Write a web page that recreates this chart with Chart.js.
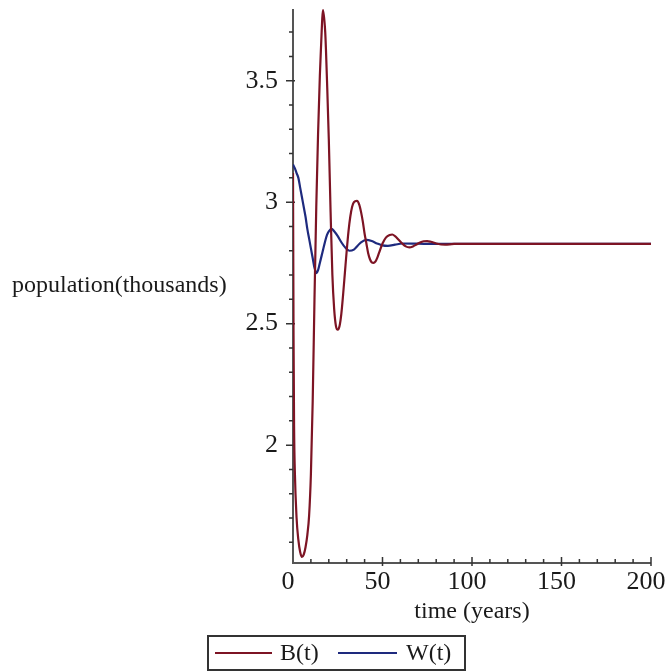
<!DOCTYPE html>
<html><head><meta charset="utf-8">
<script src="https://cdn.jsdelivr.net/npm/chart.js@4/dist/chart.umd.min.js"></script>
<style>html,body{margin:0;padding:0;background:#fff}#wrap{width:671px;height:671px}</style>
</head><body><div id="wrap"><canvas id="c" width="671" height="671"></canvas></div>
<script>
// ---- data ----
const timesB  = [0, 0.3, 0.6, 1, 2, 3, 4, 5, 6, 7, 8, 9, 10, 11, 12, 13, 14, 15, 15.6, 16.8, 18, 18.4, 19, 20, 21, 22, 23, 24, 25, 26, 27, 28, 29, 30, 31, 32, 33, 34, 35.7, 37, 38, 39, 40, 41, 42, 43, 44, 45, 46, 47, 48, 50, 52, 54, 55.5, 57, 59, 61, 63, 65, 67, 69, 71, 73, 75, 77, 80, 85, 90, 100, 150, 200];
const valuesB = [3.12, 2.45, 2.08, 1.90, 1.70, 1.61, 1.56, 1.54, 1.55, 1.58, 1.63, 1.71, 1.88, 2.18, 2.60, 2.98, 3.28, 3.52, 3.63, 3.79, 3.70, 3.63, 3.50, 3.26, 2.96, 2.70, 2.56, 2.49, 2.475, 2.49, 2.54, 2.62, 2.71, 2.80, 2.88, 2.94, 2.98, 3.00, 3.005, 2.99, 2.96, 2.92, 2.87, 2.83, 2.79, 2.765, 2.752, 2.75, 2.755, 2.77, 2.79, 2.83, 2.855, 2.865, 2.867, 2.86, 2.845, 2.83, 2.818, 2.814, 2.818, 2.826, 2.834, 2.839, 2.840, 2.837, 2.830, 2.825, 2.828, 2.828, 2.828, 2.828];
const timesW  = [0, 1, 2, 3, 4, 5, 6, 7, 8, 9, 10, 11, 12, 13.2, 14, 15, 16, 17, 18, 19, 20, 21.6, 23, 25, 27, 29, 31.5, 34, 36, 38, 41, 44, 47, 50, 53, 57, 61, 70, 80, 100, 150, 200];
const valuesW = [3.155, 3.14, 3.12, 3.10, 3.06, 3.02, 2.98, 2.94, 2.89, 2.85, 2.81, 2.77, 2.73, 2.708, 2.72, 2.75, 2.78, 2.81, 2.84, 2.865, 2.88, 2.89, 2.88, 2.86, 2.835, 2.815, 2.80, 2.805, 2.82, 2.835, 2.845, 2.84, 2.83, 2.822, 2.82, 2.825, 2.83, 2.829, 2.828, 2.828, 2.828, 2.828];
const xTickValues = [0, 50, 100, 150, 200];
const yTickValues = [2, 2.5, 3, 3.5];
const seriesLabels = ['B(t)', 'W(t)'];
const xTitle = 'time (years)';
const yTitle = 'population(thousands)';

const colorB = '#7d1424';
const colorW = '#1e2a7e';
const FONT = '"Liberation Serif", "Times New Roman", serif';
const textColor = '#1a1a1a';

const axesPlugin = {
  id: 'mapleAxes',
  beforeDatasetsDraw(chart) {
    const ctx = chart.ctx, xs = chart.scales.x, ys = chart.scales.y;
    const a = chart.chartArea;
    ctx.save();
    ctx.strokeStyle = '#555';
    ctx.lineWidth = 2;
    ctx.beginPath();
    ctx.moveTo(a.left, a.top); ctx.lineTo(a.left, a.bottom + 1);
    ctx.moveTo(a.left - 1, a.bottom); ctx.lineTo(a.right, a.bottom);
    ctx.stroke();
    ctx.strokeStyle = '#333';
    ctx.lineWidth = 1.5;
    ctx.beginPath();
    for (let k = 16; k <= 37; k++) {
      const v = k / 10;
      const y = ys.getPixelForValue(v);
      const major = (k % 5 === 0);
      ctx.moveTo(a.left - (major ? 7 : 4), y);
      ctx.lineTo(a.left + (major ? 2 : 0), y);
    }
    for (let k = 1; k <= 20; k++) {
      const v = k * 10;
      const x = xs.getPixelForValue(v);
      const major = (k % 5 === 0);
      ctx.moveTo(x, a.bottom - (major ? 6 : 4));
      ctx.lineTo(x, a.bottom + (major ? 3 : 0));
    }
    ctx.stroke();
    ctx.restore();
  },
  afterDraw(chart) {
    const ctx = chart.ctx, a = chart.chartArea;
    ctx.save();
    ctx.fillStyle = textColor;
    ctx.font = '24px ' + FONT;
    ctx.textBaseline = 'middle';
    ctx.textAlign = 'left';
    ctx.fillText(yTitle, 12, 286);
    ctx.textAlign = 'center';
    ctx.fillText(xTitle, 472, 612);
    // legend
    ctx.strokeStyle = '#333';
    ctx.lineWidth = 2;
    ctx.strokeRect(208, 636, 257, 34);
    const ly = 653;
    const items = [[colorB, 215, 272, 280], [colorW, 338, 397, 406]];
    items.forEach((it, i) => {
      ctx.strokeStyle = it[0];
      ctx.lineWidth = 2;
      ctx.beginPath(); ctx.moveTo(it[1], ly); ctx.lineTo(it[2], ly); ctx.stroke();
      ctx.fillStyle = textColor;
      ctx.textAlign = 'left';
      ctx.fillText(seriesLabels[i], it[3], ly + 1);
    });
    ctx.restore();
  }
};

const mk = (ts, vs) => ts.map((t, i) => ({ x: t, y: vs[i] }));

new Chart(document.getElementById('c'), {
  type: 'line',
  data: {
    datasets: [
      { label: seriesLabels[0], data: mk(timesB, valuesB), borderColor: colorB, borderWidth: 2.2, pointRadius: 0, cubicInterpolationMode: 'monotone', fill: false },
      { label: seriesLabels[1], data: mk(timesW, valuesW), borderColor: colorW, borderWidth: 2.2, pointRadius: 0, cubicInterpolationMode: 'monotone', fill: false }
    ]
  },
  options: {
    responsive: false,
    animation: false,
    devicePixelRatio: 1,
    layout: { padding: { left: 0, top: 9, right: 20, bottom: 0 } },
    plugins: { legend: { display: false }, tooltip: { enabled: false } },
    scales: {
      x: {
        type: 'linear', min: 0, max: 200,
        grid: { display: false, drawTicks: false }, border: { display: false },
        afterBuildTicks: s => { s.ticks = xTickValues.map(v => ({ value: v })); },
        afterFit: s => { s.height = 108; s.paddingLeft = 0; s.paddingRight = 0; },
        ticks: { autoSkip: false, maxRotation: 0, padding: 4, labelOffset: -5, color: textColor, font: { family: FONT, size: 26 }, callback: v => String(v) }
      },
      y: {
        type: 'linear', min: 1.515, max: 3.795,
        grid: { display: false, drawTicks: false }, border: { display: false },
        afterBuildTicks: s => { s.ticks = yTickValues.map(v => ({ value: v })); },
        afterFit: s => { s.width = 293; s.paddingTop = 0; s.paddingBottom = 0; },
        ticks: { autoSkip: false, padding: 15, color: textColor, font: { family: FONT, size: 26 }, callback: v => String(v) }
      }
    }
  },
  plugins: [axesPlugin]
});
</script></body></html>
